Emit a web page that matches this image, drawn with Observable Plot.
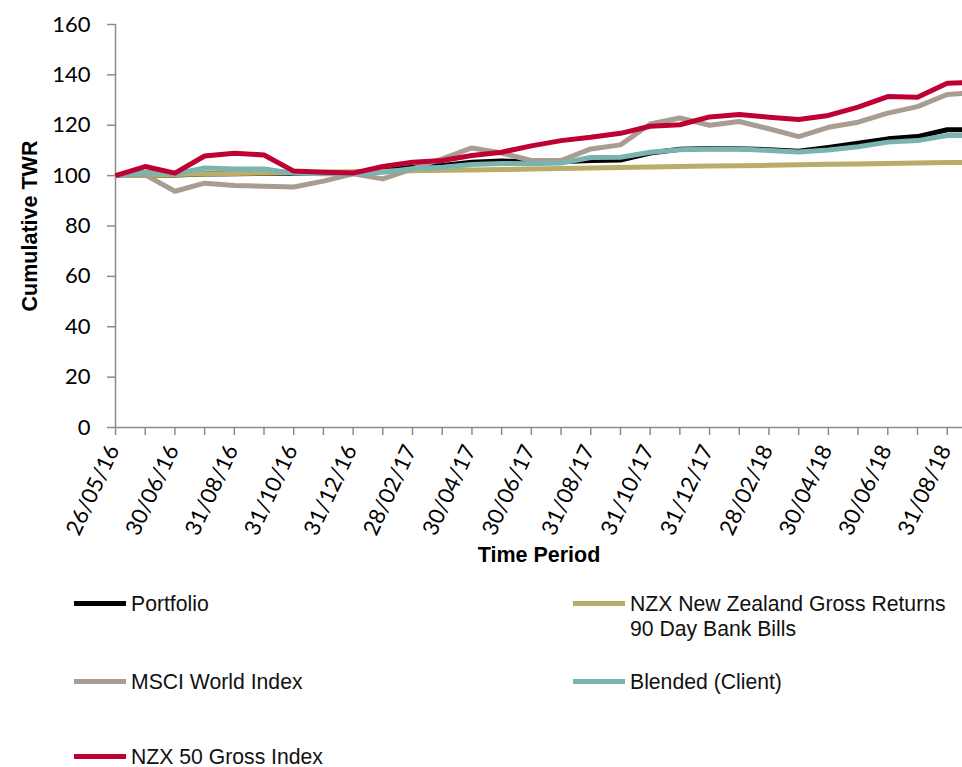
<!DOCTYPE html>
<html>
<head>
<meta charset="utf-8">
<script src="https://cdn.jsdelivr.net/npm/d3@7"></script>
<script src="https://cdn.jsdelivr.net/npm/@observablehq/plot@0.6"></script>
<style>
  html, body { margin: 0; padding: 0; background: #fff; overflow: hidden; }
  #wrap { position: relative; width: 962px; height: 767px; }
  #legend { position: absolute; left: 0; top: 580px; width: 962px; font-family: "Liberation Sans", Arial, sans-serif; font-size: 21.2px; color: #111; }
  .item { position: absolute; display: flex; align-items: flex-start; line-height: 25px; }
  .sw { width: 52px; height: 5px; margin-top: 10px; margin-right: 5px; flex: none; }
</style>
</head>
<body>
<div id="wrap">
  <div id="chart"></div>
  <div id="legend"></div>
</div>
<script>
const dates = ["26/05/16","31/05/16","30/06/16","31/07/16","31/08/16","30/09/16","31/10/16","30/11/16","31/12/16","31/01/17","28/02/17","31/03/17","30/04/17","31/05/17","30/06/17","31/07/17","31/08/17","30/09/17","31/10/17","30/11/17","31/12/17","31/01/18","28/02/18","31/03/18","30/04/18","31/05/18","30/06/18","31/07/18","31/08/18","30/09/18"];
const tickLabels = ["26/05/16","30/06/16","31/08/16","31/10/16","31/12/16","28/02/17","30/04/17","30/06/17","31/08/17","31/10/17","31/12/17","28/02/18","30/04/18","30/06/18","31/08/18"];
const yTicks = [0, 20, 40, 60, 80, 100, 120, 140, 160];

const seriesNames = ["Portfolio", "NZX New Zealand Gross Returns 90 Day Bank Bills", "MSCI World Index", "Blended (Client)", "NZX 50 Gross Index"];
const seriesColors = ["#000000", "#baad69", "#a99c90", "#7ab4b1", "#bf0032"];

const portfolio = [100, 100.3, 100.2, 100.6, 100.7, 100.9, 100.9, 101.0, 101.3, 102.0, 103.3, 104.0, 105.3, 105.8, 105.5, 105.5, 106.0, 106.2, 109.0, 110.5, 110.8, 110.7, 110.3, 109.7, 111.2, 112.9, 114.6, 115.5, 118.2, 118.3];
const bankBills = [100, 100.2, 100.4, 100.6, 100.8, 101.0, 101.2, 101.4, 101.5, 101.7, 101.9, 102.1, 102.2, 102.4, 102.6, 102.8, 103.0, 103.2, 103.4, 103.6, 103.8, 103.9, 104.1, 104.3, 104.5, 104.6, 104.8, 105.0, 105.2, 105.3];
const msci = [100, 100.3, 93.8, 97.0, 96.1, 95.8, 95.5, 97.8, 100.7, 98.7, 102.7, 106.7, 111.0, 109.0, 106.0, 106.0, 110.6, 112.2, 120.5, 122.9, 120.0, 121.5, 118.6, 115.5, 119.2, 121.2, 124.8, 127.4, 132.2, 133.0];
const blended = [100, 101.3, 100.7, 103.0, 102.6, 102.6, 101.0, 100.7, 100.7, 101.3, 102.7, 103.3, 104.4, 104.8, 104.7, 105.0, 107.2, 107.3, 109.3, 110.3, 110.6, 110.6, 110.0, 109.4, 110.2, 111.5, 113.3, 113.9, 115.9, 116.0];
const nzx50 = [100, 103.6, 101.0, 107.8, 108.9, 108.2, 101.8, 101.3, 101.0, 103.6, 105.3, 106.0, 108.0, 109.3, 111.8, 113.9, 115.2, 116.8, 119.6, 120.2, 123.3, 124.3, 123.2, 122.3, 123.9, 127.2, 131.4, 131.1, 136.7, 137.0];

const seriesValues = [portfolio, bankBills, msci, blended, nzx50];
const rows = [];
seriesNames.forEach((name, s) => {
  seriesValues[s].forEach((v, i) => rows.push({series: name, date: dates[i], value: v}));
});

const axisGray = "#8c8c8c";
const tickFont = "Lato, 'Open Sans', sans-serif";
const titleFont = "'Liberation Sans', Arial, sans-serif";

const chart = Plot.plot({
  width: 962,
  height: 580,
  marginLeft: 115,
  marginRight: 0,
  marginTop: 24,
  marginBottom: 153,
  style: {background: "transparent", overflow: "hidden"},
  x: {type: "point", domain: dates, range: [115, 976.4], padding: 0, round: false, axis: null},
  y: {domain: [0, 160], axis: null},
  color: {domain: seriesNames, range: seriesColors},
  marks: [
    Plot.ruleY([0], {stroke: axisGray, strokeWidth: 1.5}),
    Plot.ruleX([dates[0]], {stroke: axisGray, strokeWidth: 1.5}),
    Plot.axisY({ticks: yTicks, tickSize: 8, tickPadding: 17, stroke: axisGray, strokeWidth: 1.5, fontSize: 22, fontFamily: tickFont, color: "#000", label: null}),
    Plot.axisX({ticks: dates, tickSize: 8, stroke: axisGray, strokeWidth: 1.5, tickFormat: () => "", label: null}),
    Plot.text(tickLabels, {x: d => d, frameAnchor: "bottom", dy: 19, dx: -2, rotate: -65, textAnchor: "end", lineAnchor: "middle", fontSize: 22, fontFamily: tickFont, fill: "#000"}),
    Plot.line(rows, {x: "date", y: "value", z: "series", stroke: "series", strokeWidth: 5, strokeLinejoin: "round", strokeLinecap: "butt"}),
    Plot.text(["Cumulative TWR"], {frameAnchor: "left", dx: -85, rotate: -90, textAnchor: "middle", fontSize: 21.5, fontWeight: "bold", fontFamily: titleFont, fill: "#000"}),
    Plot.text(["Time Period"], {frameAnchor: "bottom", dy: 134, textAnchor: "middle", fontSize: 21.5, fontWeight: "bold", fontFamily: titleFont, fill: "#000"})
  ]
});
document.getElementById("chart").appendChild(chart);

// legend
const legendPos = [
  {left: 74, top: 11},
  {left: 573, top: 11},
  {left: 74, top: 89},
  {left: 573, top: 89},
  {left: 74, top: 164}
];
const legendLabels = ["Portfolio", "NZX New Zealand Gross Returns<br>90 Day Bank Bills", "MSCI World Index", "Blended (Client)", "NZX 50 Gross Index"];
const legend = document.getElementById("legend");
seriesNames.forEach((name, i) => {
  const item = document.createElement("div");
  item.className = "item";
  item.style.left = legendPos[i].left + "px";
  item.style.top = legendPos[i].top + "px";
  item.innerHTML = `<span class="sw" style="background:${seriesColors[i]}"></span><span>${legendLabels[i]}</span>`;
  legend.appendChild(item);
});
</script>
</body>
</html>
